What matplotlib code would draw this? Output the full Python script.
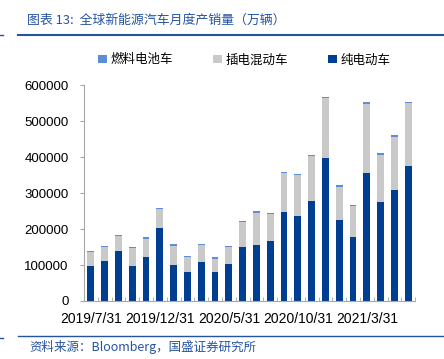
import matplotlib
matplotlib.use("Agg")
import matplotlib.pyplot as plt
import numpy as np

plt.rcParams['font.family'] = ['Liberation Sans', 'Noto Sans CJK SC', 'DejaVu Sans']

months = ["2019/7/31", "2019/8/31", "2019/9/30", "2019/10/31", "2019/11/30", "2019/12/31",
          "2020/1/31", "2020/2/29", "2020/3/31", "2020/4/30", "2020/5/31", "2020/6/30",
          "2020/7/31", "2020/8/31", "2020/9/30", "2020/10/31", "2020/11/30", "2020/12/31",
          "2021/1/31", "2021/2/28", "2021/3/31", "2021/4/30", "2021/5/31", "2021/6/30"]
bev = [96000, 112000, 138000, 96000, 122000, 202000, 100000, 80000, 108000, 80000, 104000, 149000,
       155000, 166000, 246000, 235000, 278000, 398000, 224000, 178000, 355000, 274000, 308000, 376000]
phev = [40000, 38000, 42000, 50000, 51000, 53000, 54000, 42000, 48000, 38000, 46000, 70000,
        90000, 76000, 109000, 115000, 124000, 166000, 94000, 86000, 193000, 133000, 148000, 173000]
fcv = [3500, 3600, 3800, 3500, 3700, 3900, 3400, 3300, 3600, 3300, 3600, 3800,
       3900, 3700, 3800, 3900, 3800, 4000, 3700, 3600, 4200, 4200, 4000, 4200]
legend_names = ["燃料电池车", "插电混动车", "纯电动车"]
title_text = "图表 13:  全球新能源汽车月度产销量（万辆）"
source_text = "资料来源：Bloomberg，国盛证券研究所"

c_bev = "#003E92"
c_phev = "#C9C9C9"
c_fcv = "#5B8ED6"
c_title = "#2553A3"

fig = plt.figure(figsize=(4.44, 3.59), dpi=100)
ax = fig.add_axes([0.189, 0.1616, 0.746, 0.6014])

x = np.arange(len(months))
bev_a = np.array(bev)
phev_a = np.array(phev)
fcv_a = np.array(fcv)
b1 = ax.bar(x, bev_a, width=0.5, color=c_bev, label=legend_names[2])
b2 = ax.bar(x, phev_a, width=0.5, bottom=bev_a, color=c_phev, label=legend_names[1])
b3 = ax.bar(x, fcv_a, width=0.5, bottom=bev_a + phev_a, color=c_fcv, label=legend_names[0])

ax.set_xlim(-0.5, len(months) - 0.5)
ax.set_ylim(0, 600000)
ax.set_yticks(np.arange(0, 600001, 100000))
ax.set_yticklabels([str(v) for v in range(0, 600001, 100000)], fontsize=9.5)
ax.set_xticks(x[::5])
ax.set_xticklabels(months[::5], fontsize=10)
ax.set_xticks(np.arange(-0.5, len(months), 1), minor=True)
ax.tick_params(axis='x', which='major', length=0, pad=8)
ax.tick_params(axis='x', which='minor', direction='in', length=3, color='#A6A6A6')
ax.tick_params(axis='y', direction='out', length=3, color='#A6A6A6', pad=8)
for s in ['top', 'right']:
    ax.spines[s].set_visible(False)
for s in ['left', 'bottom']:
    ax.spines[s].set_color('#A6A6A6')

fig.legend([b3, b2, b1], legend_names, loc='center', bbox_to_anchor=(0.55, 0.833), ncol=3,
           frameon=False, handlelength=0.7, handleheight=0.7, handletextpad=0.3,
           columnspacing=3.2, prop={'family': ['Noto Sans CJK SC', 'DejaVu Sans'], 'size': 9})

fig.text(27 / 444, 0.944, title_text, fontsize=9.3, color=c_title, style='italic',
         family=['Noto Sans CJK SC', 'DejaVu Sans'], va='center')
fig.add_artist(plt.Line2D([18 / 444, 1], [1 - 35 / 359] * 2, color=c_title, lw=1.5))
fig.add_artist(plt.Line2D([0, 3 / 444], [1 - 35 / 359] * 2, color=c_title, lw=1))
fig.add_artist(plt.Line2D([18 / 444, 1], [1 - 336 / 359] * 2, color=c_title, lw=1))
fig.add_artist(plt.Line2D([0, 3 / 444], [1 - 338 / 359] * 2, color=c_title, lw=1))
fig.text(0.066, 1 - 347 / 359, source_text, fontsize=9, color=c_title, style='italic',
         family=['Noto Sans CJK SC', 'DejaVu Sans'], va='center')

fig.savefig("out.png", dpi=100)
